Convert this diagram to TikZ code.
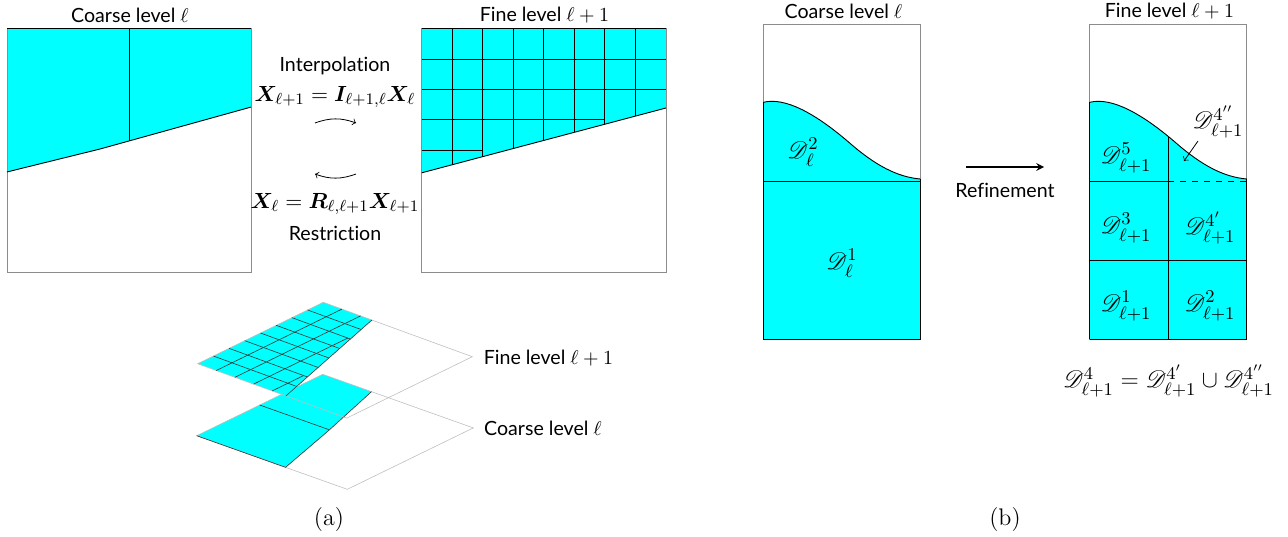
\documentclass[tikz,border=0pt]{standalone}
\usepackage{amsmath, amssymb, bm, mathrsfs}
\usepackage{fontspec}
\newfontfamily\labelfont[Ligatures=NoCommon]{Lato}
\usetikzlibrary{arrows}
\definecolor{panelcyan}{RGB}{0,255,255}
\definecolor{panelgray}{RGB}{140,140,140}
\tikzset{
  caption/.style={font=\labelfont\fontsize{9.8}{12}\selectfont, inner sep=0pt},
  mathlabel/.style={font=\fontsize{11.2}{13}\selectfont, inner sep=0pt},
  domlabel/.style={font=\fontsize{12.5}{14}\selectfont, inner sep=0pt},
  subcap/.style={font=\fontsize{12}{14}\selectfont, inner sep=0pt},
  outline/.style={draw=panelgray, line width=0.4pt},
  gridline/.style={black, line width=0.45pt},
  flatoutline/.style={draw=black!25, line width=0.3pt},
  flatgrid/.style={black!80, line width=0.3pt},
}
% domain cut in unit coordinates, s along the top edge
\newcommand{\finecut}{(0,0) -- (1,0) -- (1,0.326) -- (0,0.592) -- cycle}
\newcommand{\coarsecut}{(0,0) -- (1,0) -- (1,0.324) -- (0.5,0.463) -- (0.381,0.496) -- (0,0.59) -- cycle}
\newcommand{\finemesh}[1]{%
    \foreach \s in {1,...,7} {
        \pgfmathsetmacro{\t}{0.592-0.266*\s/8}
        \draw[#1] (\s/8,0) -- (\s/8,\t);
    }
    \draw[#1] (0,0.125) -- (1,0.125);
    \draw[#1] (0,0.25) -- (1,0.25);
    \draw[#1] (0,0.375) -- (0.75,0.375);
    \draw[#1] (0,0.5) -- (0.25,0.5);
}
\begin{document}
\begin{tikzpicture}[x=0.5pt, y=-0.5pt]
    \useasboundingbox (0,0) rectangle (1288,536);

    % (a) coarse
    \begin{scope}[shift={(7,28)}, x=122pt, y=-122pt]
        \fill[panelcyan] \coarsecut;
        \draw[outline] (0,0) rectangle (1,1);
        \draw[gridline] (0,0.59) -- (0.381,0.496) -- (0.5,0.463) -- (1,0.324);
        \draw[gridline] (0,0) -- (1,0);
        \draw[gridline] (0.5,0) -- (0.5,0.463);
    \end{scope}

    % (a) fine
    \begin{scope}[shift={(421.7,28.5)}, x=122.15pt, y=-121.9pt]
        \fill[panelcyan] \finecut;
        \draw[outline] (0,0) rectangle (1,1);
        \finemesh{gridline}
        \draw[gridline] (0,0.592) -- (1,0.326);
        \draw[gridline] (0,0) -- (1,0);
    \end{scope}

    \node[caption] (coarsetitle) at (130,15) {Coarse level $\ell$};
    \node[caption] (finetitle) at (544.5,15) {Fine level $\ell+1$};

    % transfer operators
    \node[caption] (interp) at (335,66) {Interpolation};
    \node[mathlabel] (interpeq) at (335,97) {$\boldsymbol{X}_{\ell+1}=\boldsymbol{I}_{\ell+1,\ell}\boldsymbol{X}_{\ell}$};
    \node[mathlabel] (restreq) at (335,204) {$\boldsymbol{X}_{\ell}=\boldsymbol{R}_{\ell,\ell+1}\boldsymbol{X}_{\ell+1}$};
    \node[caption] (restr) at (335,233) {Restriction};
    \coordinate (interpa) at (315,123);
    \coordinate (interpb) at (356,123);
    \coordinate (restra) at (356,174);
    \coordinate (restrb) at (315,174);
    \draw[->, line width=0.4pt] (interpa) to[bend left=20] (interpb);
    \draw[->, line width=0.4pt] (restra) to[bend left=20] (restrb);

    % flat view, coarse plane first
    \begin{scope}[shift={(196.7,435.7)}, x={(63pt,30.7pt)}, y={(75.3pt,-26.8pt)}]
        \fill[panelcyan] \coarsecut;
        \draw[flatoutline] (0,0) -- (1,0) -- (1,1) -- (0,1) -- cycle;
        \draw[flatgrid] (0,0.59) -- (0.5,0.463) -- (1,0.324);
        \draw[flatgrid] (0,0) -- (0,0.59);
        \draw[flatgrid] (0.5,0) -- (0.5,0.463);
    \end{scope}
    \begin{scope}[shift={(197.7,363.7)}, x={(62.8pt,30.7pt)}, y={(74.5pt,-27.2pt)}]
        \fill[panelcyan] \finecut;
        \draw[flatoutline] (0,0) -- (1,0) -- (1,1) -- (0,1) -- cycle;
        \finemesh{flatgrid}
        \draw[flatgrid] (0,0.592) -- (1,0.326);
    \end{scope}
    \node[caption] (flatfine) at (548.5,358) {Fine level $\ell+1$};
    \node[caption] (flatcoarse) at (543,428) {Coarse level $\ell$};

    % (b) coarse
    \fill[panelcyan] (763.3,102.3) .. controls (785,97) and (815,113) .. (850,143.3)
        .. controls (875,165) and (897,177) .. (920.3,179) -- (920.3,339) -- (763.3,339) -- cycle;
    \draw[outline] (763.3,24.7) rectangle (920.3,339);
    \draw[gridline] (763.3,102.3) .. controls (785,97) and (815,113) .. (850,143.3)
        .. controls (875,165) and (897,177) .. (920.3,179);
    \draw[gridline] (763.3,181.7) -- (920.3,181.7);
    \draw[gridline] (763.3,339) -- (920.3,339) -- (920.3,179);
    \draw[gridline] (763.3,339) -- (763.3,102.3);
    \node[caption] (coarsebtitle) at (843.5,11) {Coarse level $\ell$};
    \node[domlabel] (dtwo) at (803,152) {$\mathscr{D}_{\ell}^{2}$};
    \node[domlabel] (done) at (842,263) {$\mathscr{D}_{\ell}^{1}$};

    % refinement
    \coordinate (refinea) at (966,167);
    \coordinate (refineb) at (1044,167);
    \draw[-stealth, line width=0.7pt] (refinea) -- (refineb);
    \node[caption] (refine) at (1005,190) {Refinement};

    % (b) fine
    \fill[panelcyan] (1089.7,102.3) .. controls (1111.4,97) and (1141.4,113) .. (1176.4,143.3)
        .. controls (1201.4,165) and (1223.4,177) .. (1246.7,179) -- (1246.7,339) -- (1089.7,339) -- cycle;
    \draw[outline] (1089.7,24.7) rectangle (1246.7,339);
    \draw[gridline] (1089.7,102.3) .. controls (1111.4,97) and (1141.4,113) .. (1176.4,143.3)
        .. controls (1201.4,165) and (1223.4,177) .. (1246.7,179);
    \draw[gridline] (1168,137) -- (1168,339);
    \draw[gridline] (1089.7,181.7) -- (1168,181.7);
    \draw[gridline, dashed] (1168,181.7) -- (1246.7,181.7);
    \draw[gridline] (1089.7,260.3) -- (1246.7,260.3);
    \draw[gridline] (1089.7,339) -- (1246.7,339) -- (1246.7,179);
    \draw[gridline] (1089.7,339) -- (1089.7,102.3);
    \node[caption] (finebtitle) at (1169.5,11) {Fine level $\ell+1$};
    \node[domlabel] (dfive) at (1126,158) {$\mathscr{D}_{\ell+1}^{5}$};
    \node[domlabel] (dfourpp) at (1218,122) {$\mathscr{D}_{\ell+1}^{4''}$};
    \node[domlabel] (dthree) at (1126,228) {$\mathscr{D}_{\ell+1}^{3}$};
    \node[domlabel] (dfourp) at (1210,228) {$\mathscr{D}_{\ell+1}^{4'}$};
    \node[domlabel] (dfirst) at (1126,306) {$\mathscr{D}_{\ell+1}^{1}$};
    \node[domlabel] (dsecond) at (1210,306) {$\mathscr{D}_{\ell+1}^{2}$};
    \coordinate (pointa) at (1198,141);
    \coordinate (pointb) at (1184,161);
    \draw[->, line width=0.4pt] (pointa) -- (pointb);
    \node[domlabel, font=\fontsize{13}{15}\selectfont] (union) at (1168.5,381) {$\mathscr{D}_{\ell+1}^{4}=\mathscr{D}_{\ell+1}^{4'}\cup\mathscr{D}_{\ell+1}^{4''}$};

    \node[subcap] (capa) at (329,519) {(a)};
    \node[subcap] (capb) at (1005,519) {(b)};
\end{tikzpicture}
\end{document}
